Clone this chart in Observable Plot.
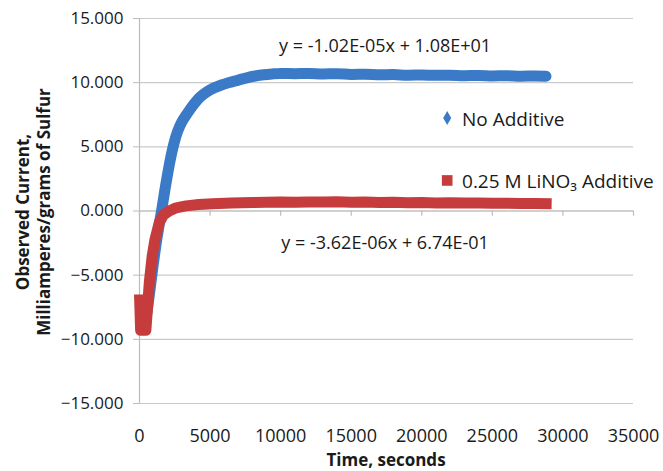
<!DOCTYPE html>
<html>
<head>
<meta charset="utf-8">
<script src="https://cdn.jsdelivr.net/npm/d3@7"></script>
<script src="https://cdn.jsdelivr.net/npm/@observablehq/plot@0.6"></script>
<style>
  html, body { margin: 0; padding: 0; background: #fff; }
  #chart svg { display: block; font-family: "Open Sans", sans-serif; }
</style>
</head>
<body>
<div id="chart"></div>
<script>
// ---- Data ----
const seriesNames = ["No Additive", "0.25 M LiNO₃ Additive"];

const blueTime = [300, 500, 700, 900, 1200, 1560, 1900, 2200, 2450, 2700, 3000, 3380, 3800, 4260, 4800, 5300, 5800, 6300, 7000, 7600, 8200, 8800, 9400, 10000, 11000, 12000, 13000, 14000, 15000, 16000, 17000, 18000, 19000, 20000, 21000, 22000, 23000, 24000, 25000, 26000, 27000, 28000, 28800];
const blueCurrent = [-9.2, -8.1, -6.5, -4.8, -2.4, 0.0, 2.3, 4.1, 5.3, 6.2, 6.95, 7.6, 8.25, 8.85, 9.3, 9.6, 9.82, 10.0, 10.2, 10.38, 10.52, 10.62, 10.68, 10.72, 10.7, 10.72, 10.68, 10.7, 10.64, 10.66, 10.62, 10.63, 10.58, 10.6, 10.57, 10.58, 10.54, 10.56, 10.52, 10.54, 10.5, 10.52, 10.5];

const redTime = [0, 80, 450, 700, 900, 1100, 1400, 1700, 2100, 2600, 3300, 4200, 5200, 6500, 8000, 9000, 10000, 11000, 12000, 13000, 14000, 15000, 16000, 17000, 18000, 19000, 20000, 21000, 22000, 23000, 24000, 25000, 26000, 27000, 28000, 29200];
const redCurrent = [-6.5, -9.3, -9.3, -5.5, -3.5, -2.2, -0.9, -0.3, 0.0, 0.25, 0.4, 0.5, 0.57, 0.62, 0.66, 0.68, 0.7, 0.69, 0.71, 0.7, 0.72, 0.69, 0.7, 0.67, 0.68, 0.65, 0.66, 0.63, 0.64, 0.62, 0.62, 0.6, 0.61, 0.58, 0.59, 0.57];

const xTicks = [0, 5000, 10000, 15000, 20000, 25000, 30000, 35000];
const yTicks = [-15, -10, -5, 0, 5, 10, 15];
const trendEquations = ["y = -1.02E-05x + 1.08E+01", "y = -3.62E-06x + 6.74E-01"];

const colors = ["#3b7ac6", "#c63b3b"];

// ---- Tables built from the arrays ----
const blue = blueTime.map((t, i) => ({t, v: blueCurrent[i]}));
const red = redTime.map((t, i) => ({t, v: redCurrent[i]}));

const font = "Open Sans";
const ink = "#1a1a1a";
const plot = Plot.plot({
  width: 663,
  height: 471,
  marginLeft: 139,
  marginRight: 30,
  marginTop: 18,
  marginBottom: 68,
  style: {fontFamily: font, fontSize: "17px", color: ink, background: "#fff"},
  x: {domain: [0, 35000]},
  y: {domain: [-15, 15]},
  marks: [
    Plot.gridY(yTicks, {stroke: "#cacaca", strokeOpacity: 1, strokeWidth: 1.2}),
    Plot.ruleX([0], {stroke: "#bcbcbc", strokeWidth: 1.2}),
    Plot.ruleY([0], {stroke: "#bcbcbc", strokeWidth: 1.2}),
    Plot.ruleX(xTicks, {x: d => d, y1: 0, y2: -0.4, stroke: "#bcbcbc", strokeWidth: 1.2}),
    Plot.axisY(yTicks, {tickFormat: d3.format(".3f"), tickSize: 6, tickPadding: 10, stroke: "#bcbcbc", fontSize: 17, label: null}),
    Plot.axisX(xTicks, {tickFormat: d => String(d), tickSize: 0, tickPadding: 26, fontSize: 18, label: null}),
    Plot.line(blue, {x: "t", y: "v", stroke: colors[0], strokeWidth: 11, strokeLinecap: "round", strokeLinejoin: "round", curve: "catmull-rom"}),
    Plot.line(red, {x: "t", y: "v", stroke: colors[1], strokeWidth: 11, strokeLinecap: "butt", strokeLinejoin: "round"}),
    // trendline equations
    Plot.text([trendEquations[0]], {x: 17400, y: 12.83, text: d => d, fontSize: 18, fill: ink}),
    Plot.text([trendEquations[1]], {x: 17400, y: -2.53, text: d => d, fontSize: 18, fill: ink}),
    // legend
    Plot.dot([seriesNames[0]], {x: 21800, y: 7.25, symbol: "diamond", r: 4.2, fill: colors[0], stroke: null}),
    Plot.dot([seriesNames[1]], {x: 21800, y: 2.38, symbol: "square", r: 6, fill: colors[1], stroke: null}),
    Plot.text([seriesNames[0]], {x: 22850, y: 7.1, text: d => d, textAnchor: "start", fontSize: 19, fill: ink}),
    Plot.text([seriesNames[1]], {x: 22850, y: 2.3, text: d => d, textAnchor: "start", fontSize: 19, fill: ink})
  ]
});

const svg = d3.select(plot);
// axis titles
svg.append("text")
  .attr("transform", "translate(32,212) rotate(-90)")
  .attr("text-anchor", "middle")
  .attr("font-weight", "bold")
  .attr("font-size", 17)
  .attr("fill", ink)
  .call(t => {
    t.append("tspan").attr("x", 0).attr("dy", "-0.2em").text("Observed Current,");
    t.append("tspan").attr("x", 0).attr("dy", "1.25em").text("Milliamperes/grams of Sulfur");
  });
svg.append("text")
  .attr("x", 386).attr("y", 466)
  .attr("text-anchor", "middle")
  .attr("font-weight", "bold")
  .attr("font-size", 17)
  .attr("fill", ink)
  .text("Time, seconds");

document.getElementById("chart").appendChild(plot);
</script>
</body>
</html>
